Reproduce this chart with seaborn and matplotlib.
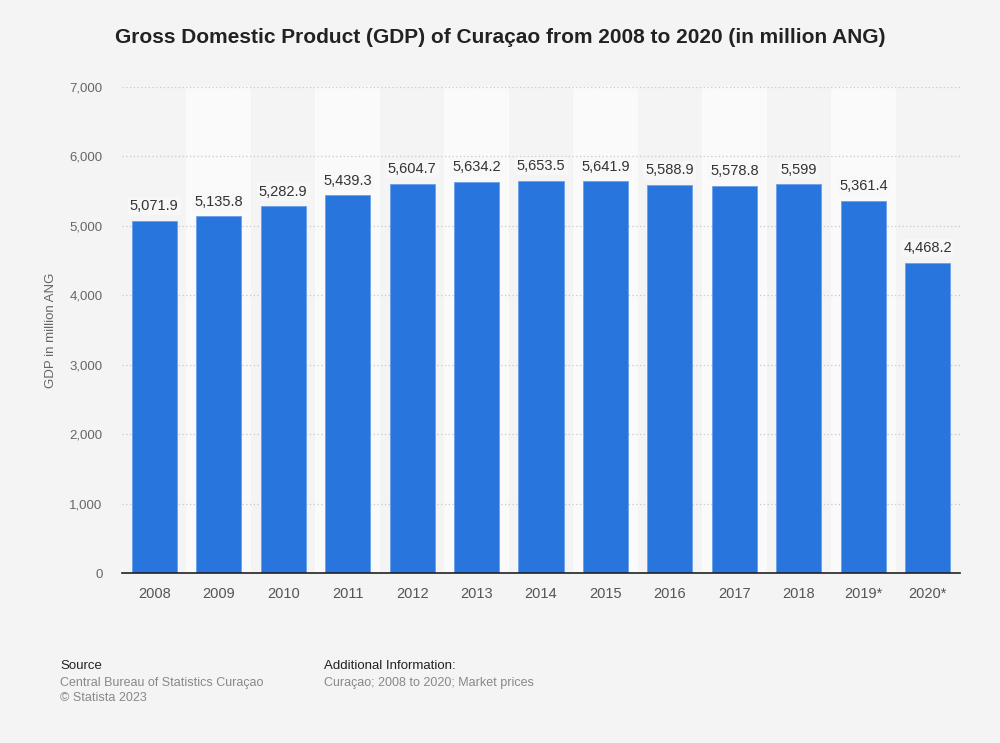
import matplotlib
matplotlib.use("Agg")
import matplotlib.pyplot as plt
import seaborn as sns
import pandas as pd
from matplotlib.ticker import FuncFormatter

years = ["2008", "2009", "2010", "2011", "2012", "2013", "2014", "2015",
         "2016", "2017", "2018", "2019*", "2020*"]
gdp = [5071.9, 5135.8, 5282.9, 5439.3, 5604.7, 5634.2, 5653.5, 5641.9,
       5588.9, 5578.8, 5599, 5361.4, 4468.2]
value_labels = ["5,071.9", "5,135.8", "5,282.9", "5,439.3", "5,604.7", "5,634.2",
                "5,653.5", "5,641.9", "5,588.9", "5,578.8", "5,599", "5,361.4", "4,468.2"]

df = pd.DataFrame({"year": years, "gdp": gdp})

sns.set_theme(style="white")
plt.rcParams['font.family'] = ['Liberation Sans', 'DejaVu Sans']

bg = "#f4f4f4"
fig = plt.figure(figsize=(10, 7.43), dpi=100, facecolor=bg)
ax = fig.add_axes([0.122, 0.2288, 0.838, 0.654])
ax.set_facecolor(bg)

# alternating column bands
for i in range(len(years)):
    if i % 2 == 1:
        ax.axvspan(i - 0.5, i + 0.5, color="#fafafa", zorder=0, lw=0)

sns.barplot(data=df, x="year", y="gdp", color="#2875dd", saturation=1,
            width=0.7, ax=ax, zorder=3, edgecolor="#6aa0ea", linewidth=0.6)

ax.set_ylim(0, 7000)
ax.set_xlim(-0.5, len(years) - 0.5)
ax.set_yticks(range(0, 7001, 1000))
ax.yaxis.set_major_formatter(FuncFormatter(lambda v, p: f"{int(v):,}"))
ax.grid(axis="y", linestyle=(0, (1, 2)), color="#c8c8c8", linewidth=0.9, zorder=1)
ax.set_axisbelow(True)
for s in ["top", "right", "left"]:
    ax.spines[s].set_visible(False)
ax.spines["bottom"].set_color("#222222")
ax.spines["bottom"].set_linewidth(1.2)
ax.spines["bottom"].set_zorder(5)

ax.tick_params(axis="x", colors="#555555", labelsize=10.5, length=0, pad=10)
ax.tick_params(axis="y", colors="#666666", labelsize=9.5, length=0, pad=14)
ax.set_xlabel("")
ax.set_ylabel("GDP in million ANG", color="#666666", fontsize=9.5)
ax.yaxis.set_label_coords(-0.0776, 0.5)

for i, (v, t) in enumerate(zip(gdp, value_labels)):
    ax.text(i, v + 110, t, ha="center", va="bottom", fontsize=10.5, color="#333333",
            zorder=6, bbox=dict(boxstyle="square,pad=0.15", fc="#f8f8f8", ec="none", alpha=0.8))

fig.text(0.5, 0.950, "Gross Domestic Product (GDP) of Curaçao from 2008 to 2020 (in million ANG)",
         ha="center", va="center", fontsize=15, fontweight="bold", color="#222222")

fig.text(0.06, 0.104, "Source", fontsize=9.5, color="#222222", va="center")
fig.text(0.06, 0.081, "Central Bureau of Statistics Curaçao", fontsize=9, color="#888888", va="center")
fig.text(0.06, 0.060, "© Statista 2023", fontsize=9, color="#888888", va="center")
fig.text(0.324, 0.104, "Additional Information:", fontsize=9.5, color="#222222", va="center")
fig.text(0.324, 0.081, "Curaçao; 2008 to 2020; Market prices", fontsize=9, color="#888888", va="center")

fig.savefig("out.png", dpi=100, facecolor=bg)
